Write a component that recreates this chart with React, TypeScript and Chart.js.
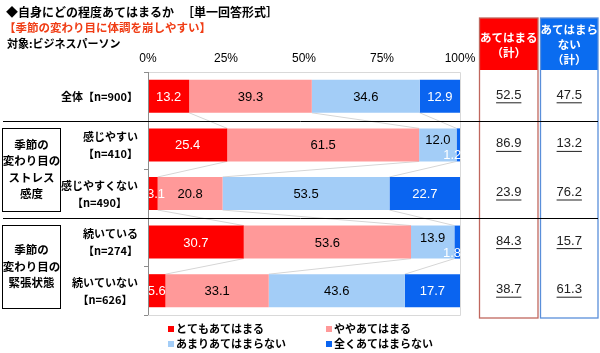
import React, { useEffect, useRef } from 'react';
import { Chart, registerables } from 'chart.js';

Chart.register(...registerables);

// ---------- data ----------
const categories = ['全体【n=900】', '感じやすい【n=410】', '感じやすくない【n=490】', '続いている【n=274】', '続いていない【n=626】'];
const categoryLines = [['全体【n=900】'], ['感じやすい', '【n=410】'], ['感じやすくない', '【n=490】'], ['続いている', '【n=274】'], ['続いていない', '【n=626】']];
const groupLabels = [['季節の', '変わり目の', 'ストレス', '感度'], ['季節の', '変わり目の', '緊張状態']];
const seriesNames = ['とてもあてはまる', 'ややあてはまる', 'あまりあてはまらない', '全くあてはまらない'];
const veryTrue = [13.2, 25.4, 3.1, 30.7, 5.6];
const somewhatTrue = [39.3, 61.5, 20.8, 53.6, 33.1];
const notVeryTrue = [34.6, 12.0, 53.5, 13.9, 43.6];
const notAtAllTrue = [12.9, 1.2, 22.7, 1.8, 17.7];
const appliesTotal = [52.5, 86.9, 23.9, 84.3, 38.7];
const notAppliesTotal = [47.5, 13.2, 76.2, 15.7, 61.3];
const tickValues = [0, 25, 50, 75, 100];
const tickLabels = ['0%', '25%', '50%', '75%', '100%'];

const seriesData = [veryTrue, somewhatTrue, notVeryTrue, notAtAllTrue];
const seriesColors = ['#FF0000', '#FF9999', '#A3CDF7', '#0A64F0'];
const labelColors = ['#FFFFFF', '#000000', '#000000', '#FFFFFF'];

const JP = '"Noto Sans CJK JP", "Noto Sans JP", sans-serif';
const NUM = '"Liberation Sans", Arial, sans-serif';

const overlay = {
  id: 'overlay',
  beforeDatasetsDraw(chart: any) {
    const { ctx, chartArea: a } = chart;
    ctx.save();
    // frame
    ctx.lineWidth = 1;
    ctx.strokeStyle = '#D9D9D9';
    ctx.beginPath();
    ctx.moveTo(a.left, a.top + 0.5); ctx.lineTo(a.right + 0.5, a.top + 0.5);
    ctx.lineTo(a.right + 0.5, a.bottom + 0.5); ctx.lineTo(a.left, a.bottom + 0.5);
    ctx.stroke();
    // series lines
    ctx.strokeStyle = '#D6D6D6';
    const metas = seriesData.map((_, i) => chart.getDatasetMeta(i));
    for (let r = 0; r < categories.length - 1; r++) {
      for (let s = 0; s < 3; s++) {
        const b0 = metas[s].data[r];
        const b1 = metas[s].data[r + 1];
        ctx.beginPath();
        ctx.moveTo(b0.x, b0.y + b0.height / 2);
        ctx.lineTo(b1.x, b1.y - b1.height / 2);
        ctx.stroke();
      }
    }
    ctx.restore();
  },
  afterDatasetsDraw(chart: any) {
    const { ctx } = chart;
    ctx.save();
    ctx.font = `13px ${NUM}`;
    ctx.textBaseline = 'middle';
    for (let s = 0; s < seriesData.length; s++) {
      const meta = chart.getDatasetMeta(s);
      for (let r = 0; r < categories.length; r++) {
        const bar = meta.data[r];
        const v = seriesData[s][r];
        const left = bar.base;
        const right = bar.x;
        let x = (left + right) / 2;
        let y = bar.y + 1;
        ctx.textAlign = 'center';
        ctx.fillStyle = labelColors[s];
        const nextTiny = s < 3 && seriesData[s + 1][r] < 2.5;
        if (s === 3 && v < 2.5) {
          ctx.textAlign = 'right';
          x = right + 1;
          y = bar.y + 11;
        } else if (nextTiny) {
          y = bar.y - 4;
        } else if (s === 0 && v < 4) {
          ctx.textAlign = 'left';
          x = left - 1;
        }
        ctx.fillText(v.toFixed(1), x, y);
      }
    }
    ctx.restore();
  },
  afterDraw(chart: any) {
    const { ctx, chartArea: a } = chart;
    const xs = chart.scales.x;
    const ys = chart.scales.y;
    ctx.save();
    ctx.textBaseline = 'middle';

    // titles
    ctx.fillStyle = '#000';
    ctx.textAlign = 'left';
    ctx.font = `bold 12px ${JP}`;
    ctx.fillText('◆自身にどの程度あてはまるか', 6, 12);
    ctx.fillText('［単一回答形式］', 182, 12);
    ctx.fillStyle = '#F03C14';
    ctx.font = `bold 11.5px ${JP}`;
    ctx.fillText('【季節の変わり目に体調を崩しやすい】', 4, 28);
    ctx.fillStyle = '#000';
    ctx.font = `bold 11px ${JP}`;
    ctx.fillText('対象:ビジネスパーソン', 7, 44);

    // x ticks
    ctx.font = `12px ${NUM}`;
    ctx.textAlign = 'center';
    tickValues.forEach((v, i) => {
      ctx.fillText(tickLabels[i], xs.getPixelForValue(v), 59);
    });

    // left axis line + tick marks
    ctx.strokeStyle = '#8C8C8C';
    ctx.lineWidth = 1;
    ctx.beginPath();
    ctx.moveTo(a.left + 0.5, a.top); ctx.lineTo(a.left + 0.5, a.bottom);
    for (let r = 0; r <= categories.length; r++) {
      const yb = r === 0 ? a.top : r === categories.length ? a.bottom : (ys.getPixelForValue(r - 1) + ys.getPixelForValue(r)) / 2;
      ctx.moveTo(a.left - 4, Math.round(yb) + 0.5); ctx.lineTo(a.left, Math.round(yb) + 0.5);
    }
    ctx.stroke();

    // category labels
    ctx.fillStyle = '#000';
    ctx.font = `bold 11px ${JP}`;
    categoryLines.forEach((lines, r) => {
      const cy = ys.getPixelForValue(r);
      const widths = lines.map((l) => ctx.measureText(l).width);
      const maxW = Math.max(...widths);
      const cx = 138 - maxW / 2;
      ctx.textAlign = 'center';
      if (lines.length === 1) {
        ctx.textAlign = 'right';
        ctx.fillText(lines[0], 138, cy + 1);
      } else {
        ctx.fillText(lines[0], cx, cy - 8);
        ctx.fillText(lines[1], cx, cy + 9);
      }
    });

    // group boxes
    const groups = [[1, 2], [3, 4]];
    ctx.font = `bold 11.5px ${JP}`;
    groups.forEach((g, gi) => {
      const y0 = ys.getPixelForValue(g[0]) - 17;
      const y1 = ys.getPixelForValue(g[1]) + 17;
      ctx.strokeStyle = '#000';
      ctx.lineWidth = 1;
      ctx.strokeRect(2.5, Math.round(y0) + 0.5, 58, Math.round(y1 - y0));
      const lines = groupLabels[gi];
      const mid = (y0 + y1) / 2;
      const lh = 16.5;
      ctx.textAlign = 'center';
      ctx.fillStyle = '#000';
      lines.forEach((l, i) => {
        ctx.fillText(l, 31.5, mid + (i - (lines.length - 1) / 2) * lh);
      });
    });

    // right columns
    const colL = [{ x: 479.5, w: 58.5, fill: '#FF0000', edge: '#C0675E', head: ['あてはまる', '（計）'], vals: appliesTotal },
      { x: 540.5, w: 57.5, fill: '#0A6CF0', edge: '#5A8FDA', head: ['あてはまら', 'ない', '（計）'], vals: notAppliesTotal }];
    colL.forEach((c) => {
      ctx.fillStyle = c.fill;
      ctx.fillRect(c.x, 18, c.w, 52);
      ctx.strokeStyle = c.edge;
      ctx.lineWidth = 1.3;
      ctx.strokeRect(c.x, 18, c.w, 300);
      ctx.fillStyle = '#FFF';
      ctx.font = `bold 11.5px ${JP}`;
      ctx.textAlign = 'center';
      const cx = c.x + c.w / 2;
      const lh = 15;
      c.head.forEach((h, i) => {
        ctx.fillText(h, cx, 45 + (i - (c.head.length - 1) / 2) * lh);
      });
      ctx.fillStyle = '#222';
      ctx.font = `13px ${NUM}`;
      c.vals.forEach((v, r) => {
        const cy = ys.getPixelForValue(r) - 1;
        const t = v.toFixed(1);
        const w = ctx.measureText(t).width;
        ctx.fillText(t, cx, cy);
        ctx.fillRect(cx - w / 2, cy + 7, w, 1);
      });
    });

    // separators
    ctx.strokeStyle = '#000';
    ctx.lineWidth = 1;
    [[0, 1], [2, 3]].forEach(([p, q]) => {
      const yb = Math.round((ys.getPixelForValue(p) + ys.getPixelForValue(q)) / 2) + 0.5;
      ctx.beginPath();
      ctx.moveTo(3, yb); ctx.lineTo(598, yb);
      ctx.stroke();
    });

    // legend
    const legendPos = [[168, 329], [326, 329], [168, 344], [326, 344]];
    ctx.font = `bold 11px ${JP}`;
    ctx.textAlign = 'left';
    seriesNames.forEach((n, i) => {
      const [lx, ly] = legendPos[i];
      ctx.fillStyle = seriesColors[i];
      ctx.fillRect(lx, ly - 3, 6, 6);
      ctx.fillStyle = '#000';
      ctx.fillText(n, lx + 8, ly);
    });
    ctx.restore();
  },
};

export default function App() {
  const ref = useRef<HTMLCanvasElement>(null);
  useEffect(() => {
    if (!ref.current) return;
    const chart = new Chart(ref.current, {
      type: 'bar',
      data: {
        labels: categories,
        datasets: seriesData.map((d, i) => ({
          label: seriesNames[i],
          data: d,
          backgroundColor: seriesColors[i],
          borderWidth: 0,
          categoryPercentage: 1,
          barPercentage: 0.68,
        })),
      },
      options: {
        indexAxis: 'y',
        responsive: false,
        animation: false,
        devicePixelRatio: 1,
        layout: { padding: { left: 148, right: 140, top: 72, bottom: 38 } },
        scales: {
          x: { stacked: true, min: 0, max: 100, display: false },
          y: { stacked: true, display: false },
        },
        plugins: { legend: { display: false }, tooltip: { enabled: false } },
      },
      plugins: [overlay],
    } as any);
    return () => chart.destroy();
  }, []);
  return (
    <div style={{ position: 'absolute', left: 0, top: 0, width: 600, height: 353, background: '#fff' }}>
      <canvas ref={ref} width={600} height={353} style={{ width: 600, height: 353 }} />
    </div>
  );
}
